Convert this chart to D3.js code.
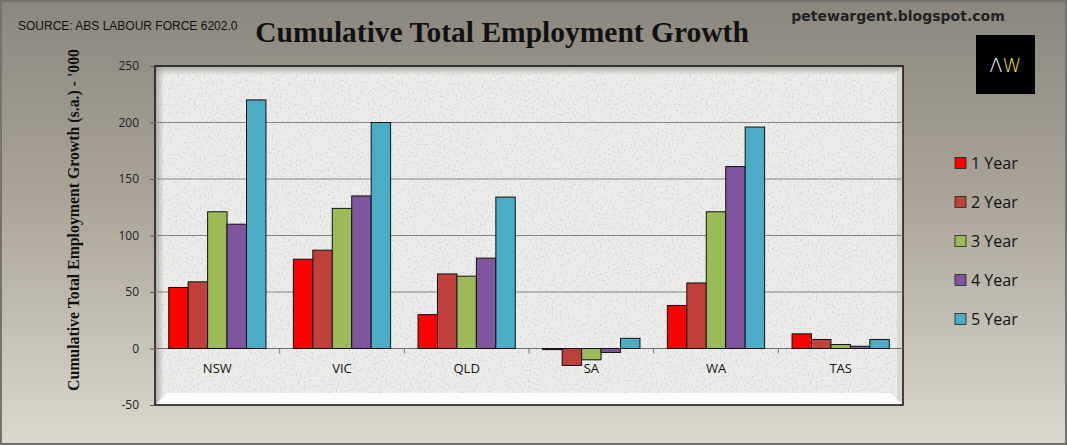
<!DOCTYPE html>
<html lang="en">
<head>
<meta charset="utf-8">
<title>Cumulative Total Employment Growth</title>
<script src="https://d3js.org/d3.v7.min.js"></script>
<style>
  body { margin: 0; }
  .tick text { font-family: "Open Sans", "DejaVu Sans", sans-serif; font-size: 12px; fill: #222; }
  .legend text { font-family: "Open Sans", "DejaVu Sans", sans-serif; font-size: 16px; fill: #111; }
</style>
</head>
<body>
<script>
const w = 1067, h = 445;

// data
const states = ["NSW", "VIC", "QLD", "SA", "WA", "TAS"];
const seriesNames = ["1 Year", "2 Year", "3 Year", "4 Year", "5 Year"];
const seriesColors = ["#ff0000", "#c0403b", "#9bbb59", "#7f559e", "#4bacc6"];
const oneYear   = [54, 79, 30, -1, 38, 13];
const twoYear   = [59, 87, 66, -15, 58, 8];
const threeYear = [121, 124, 64, -10, 121, 3.5];
const fourYear  = [110, 135, 80, -3.5, 161, 2];
const fiveYear  = [220, 200, 134, 9, 196, 8];
const yTicks = [-50, 0, 50, 100, 150, 200, 250];

const series = [oneYear, twoYear, threeYear, fourYear, fiveYear];

const plot = {left: 155, right: 903, top: 66, bottom: 405};

const svg = d3.select("body").append("svg").attr("width", w).attr("height", h);
const defs = svg.append("defs");

// page background gradient
const bg = defs.append("linearGradient").attr("id", "bg").attr("x1", 0).attr("y1", 0).attr("x2", 0).attr("y2", 1);
bg.append("stop").attr("offset", "0%").attr("stop-color", "#8c877d");
bg.append("stop").attr("offset", "45%").attr("stop-color", "#aaa597");
bg.append("stop").attr("offset", "100%").attr("stop-color", "#dcd8cc");

// speckled plot background
const f = defs.append("filter").attr("id", "speckle").attr("x", 0).attr("y", 0).attr("width", 1).attr("height", 1);
f.append("feTurbulence").attr("type", "fractalNoise").attr("baseFrequency", 0.5).attr("numOctaves", 2).attr("seed", 3).attr("result", "n");
f.append("feColorMatrix").attr("in", "n").attr("type", "matrix")
  .attr("values", "0 0 0 0 0.6  0 0 0 0 0.6  0 0 0 0 0.58  -2.4 0 0 0 1.2")
  .attr("result", "dots");
f.append("feFlood").attr("flood-color", "#ececea").attr("result", "base");
f.append("feComposite").attr("in", "dots").attr("in2", "base").attr("operator", "over");

const topShade = defs.append("linearGradient").attr("id", "topShade").attr("x1", 0).attr("y1", 0).attr("x2", 0).attr("y2", 1);
topShade.append("stop").attr("offset", "0%").attr("stop-color", "#9a9994").attr("stop-opacity", 0.8);
topShade.append("stop").attr("offset", "100%").attr("stop-color", "#9a9994").attr("stop-opacity", 0);
const leftShade = defs.append("linearGradient").attr("id", "leftShade").attr("x1", 0).attr("y1", 0).attr("x2", 1).attr("y2", 0);
leftShade.append("stop").attr("offset", "0%").attr("stop-color", "#9a9994").attr("stop-opacity", 0.8);
leftShade.append("stop").attr("offset", "100%").attr("stop-color", "#9a9994").attr("stop-opacity", 0);

svg.append("rect").attr("width", w).attr("height", h).attr("fill", "url(#bg)");
svg.append("rect").attr("x", 1).attr("y", 1).attr("width", w - 2).attr("height", h - 2)
  .attr("fill", "none").attr("stroke", "#77736a").attr("stroke-width", 2);

// plot area
const pw = plot.right - plot.left, ph = plot.bottom - plot.top;
svg.append("rect").attr("x", plot.left).attr("y", plot.top).attr("width", pw).attr("height", ph)
  .attr("filter", "url(#speckle)");
// bevel
svg.append("rect").attr("x", plot.left).attr("y", plot.top).attr("width", pw).attr("height", 9).attr("fill", "url(#topShade)");
svg.append("rect").attr("x", plot.left).attr("y", plot.top).attr("width", 9).attr("height", ph).attr("fill", "url(#leftShade)");
svg.append("polygon")
  .attr("points", `${plot.left},${plot.bottom} ${plot.left + 12},${plot.bottom - 12} ${plot.right - 12},${plot.bottom - 12} ${plot.right},${plot.bottom}`)
  .attr("fill", "#fbfbfa");
svg.append("polygon")
  .attr("points", `${plot.right},${plot.top} ${plot.right - 6},${plot.top + 6} ${plot.right - 6},${plot.bottom - 6} ${plot.right},${plot.bottom}`)
  .attr("fill", "#d8d8d4");
svg.append("rect").attr("x", plot.left).attr("y", plot.top).attr("width", pw).attr("height", ph)
  .attr("fill", "none").attr("stroke", "#111").attr("stroke-width", 1.5);

// scales
const y = d3.scaleLinear().domain([-50, 250]).range([plot.bottom, plot.top]);
const x0 = d3.scaleBand().domain(states).range([plot.left, plot.right]).paddingInner(0.22).paddingOuter(0.11);
const x1 = d3.scaleBand().domain(d3.range(seriesNames.length)).range([0, x0.bandwidth()]);
const xStep = d3.scaleBand().domain(states).range([plot.left, plot.right]);

// gridlines
svg.append("g").selectAll("line").data(yTicks.filter(t => t > -50 && t < 250)).join("line")
  .attr("x1", plot.left).attr("x2", plot.right)
  .attr("y1", d => y(d)).attr("y2", d => y(d))
  .attr("stroke", d => d === 0 ? "#6e6e6e" : "#858585").attr("stroke-width", 1);

// y axis
const yAxis = svg.append("g").attr("transform", `translate(${plot.left},0)`)
  .call(d3.axisLeft(y).tickValues(yTicks).tickFormat(d => String(d)).tickSize(5).tickPadding(11));
yAxis.select(".domain").remove();
yAxis.selectAll(".tick line").attr("stroke", "#555");

// category ticks on the zero line
svg.append("g").selectAll("line").data(states.slice(1)).join("line")
  .attr("x1", d => xStep(d)).attr("x2", d => xStep(d))
  .attr("y1", y(0)).attr("y2", y(0) + 5)
  .attr("stroke", "#777");

// bars
const groups = svg.append("g").selectAll("g").data(states).join("g")
  .attr("transform", d => `translate(${x0(d)},0)`);
groups.selectAll("rect").data((d, i) => series.map((s, k) => ({k: k, v: s[i]}))).join("rect")
  .attr("x", d => x1(d.k))
  .attr("width", x1.bandwidth())
  .attr("y", d => y(Math.max(0, d.v)))
  .attr("height", d => Math.abs(y(d.v) - y(0)))
  .attr("fill", d => seriesColors[d.k])
  .attr("stroke", "#111").attr("stroke-width", 1);

// category labels
svg.append("g").selectAll("text").data(states).join("text")
  .attr("x", d => xStep(d) + xStep.bandwidth() / 2)
  .attr("y", 373)
  .attr("text-anchor", "middle")
  .style("font-family", "'Open Sans', 'DejaVu Sans', sans-serif")
  .style("font-size", "13px").attr("fill", "#111")
  .text(d => d);

// y axis title
svg.append("text")
  .attr("transform", "translate(79,220) rotate(-90)")
  .attr("text-anchor", "middle")
  .style("font-family", "'Liberation Serif', 'Times New Roman', serif")
  .style("font-weight", "bold").style("font-size", "15.8px").attr("fill", "#111")
  .text("Cumulative Total Employment Growth (s.a.) - '000");

// titles
svg.append("text").attr("x", 502).attr("y", 42).attr("text-anchor", "middle")
  .style("font-family", "'Liberation Serif', 'Times New Roman', serif")
  .style("font-weight", "bold").style("font-size", "29.5px").attr("fill", "#111")
  .text("Cumulative Total Employment Growth");
svg.append("text").attr("x", 18).attr("y", 30)
  .style("font-family", "'Liberation Sans Narrow', 'Liberation Sans', Arial, sans-serif")
  .style("font-size", "12px").attr("fill", "#111")
  .text("SOURCE: ABS LABOUR FORCE 6202.0");
svg.append("text").attr("x", 898).attr("y", 21).attr("text-anchor", "middle")
  .style("font-family", "'DejaVu Sans', Verdana, sans-serif")
  .style("font-weight", "bold").style("font-size", "14px").attr("fill", "#222")
  .text("petewargent.blogspot.com");

// logo
svg.append("rect").attr("x", 976).attr("y", 35).attr("width", 59).attr("height", 59).attr("fill", "#000");
const logo = svg.append("text").attr("x", 1005.5).attr("y", 72).attr("text-anchor", "middle")
  .style("font-family", "'DejaVu Sans', sans-serif").style("font-size", "19px").style("font-weight", "300");
logo.append("tspan").attr("fill", "#fff").text("Λ");
logo.append("tspan").attr("fill", "#f2e232").text("W");

// legend
const legend = svg.append("g").attr("class", "legend").selectAll("g").data(seriesNames).join("g")
  .attr("transform", (d, i) => `translate(955,${163 + i * 39})`);
legend.append("rect").attr("x", 0).attr("y", -5.5).attr("width", 11).attr("height", 11)
  .attr("fill", (d, i) => seriesColors[i]).attr("stroke", "#222").attr("stroke-width", 0.8);
legend.append("text").attr("x", 16).attr("y", 0).attr("dy", "0.36em").text(d => d);
</script>
</body>
</html>
